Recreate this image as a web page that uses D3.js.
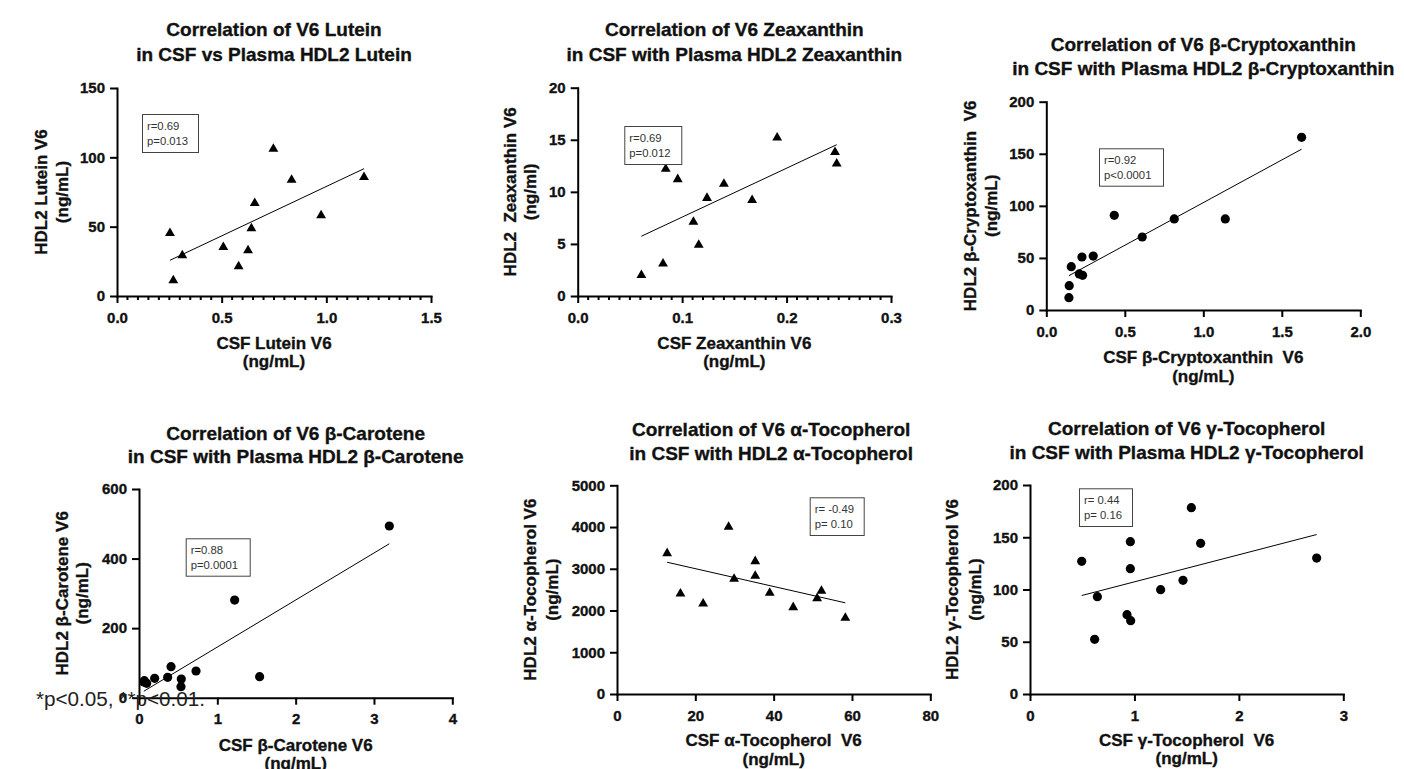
<!DOCTYPE html>
<html>
<head>
<meta charset="utf-8">
<script src="https://cdn.jsdelivr.net/npm/d3@7"></script>
<style>
  html, body { margin: 0; padding: 0; background: #fff; }
  svg { display: block; }
  text { white-space: pre; }
</style>
</head>
<body>
<svg id="chart" width="1404" height="769"></svg>
<script>
// ---- Data: CSF vs plasma HDL2 concentrations at visit 6 ----
const luteinCSF  = [0.253, 0.269, 0.312, 0.508, 0.581, 0.626, 0.642, 0.658, 0.747, 0.834, 0.975, 1.18];
const luteinHDL2 = [46, 12, 30, 36, 22, 33.6, 49.4, 67.7, 106.8, 84.5, 58.8, 86.4];

const zeaCSF  = [0.061, 0.0817, 0.0843, 0.0958, 0.1108, 0.1159, 0.1238, 0.140, 0.167, 0.191, 0.2464, 0.248];
const zeaHDL2 = [2.1, 3.2, 12.3, 11.3, 7.2, 5.0, 9.5, 10.85, 9.3, 15.3, 13.9, 12.8];

const bcxCSF  = [0.144, 0.146, 0.159, 0.210, 0.231, 0.227, 0.299, 0.433, 0.611, 0.815, 1.140, 1.626];
const bcxHDL2 = [11.8, 23.4, 41.6, 34.6, 33.3, 50.9, 51.8, 90.9, 70.1, 87.4, 87.4, 165.8];

const bcarCSF  = [0.062, 0.068, 0.098, 0.200, 0.366, 0.409, 0.540, 0.536, 0.728, 1.221, 1.540, 3.196];
const bcarHDL2 = [45, 48.9, 41.4, 55.8, 58.7, 89.1, 53.8, 31.6, 76.8, 280.8, 60.4, 493.6];

const atocCSF  = [12.8, 16.2, 22.0, 28.5, 29.9, 35.3, 35.3, 39.0, 45.0, 51.1, 52.2, 58.3];
const atocHDL2 = [3395, 2428, 2188, 4026, 2780, 3203, 2851, 2444, 2101, 2316, 2492, 1845];

const gtocCSF  = [0.495, 0.619, 0.645, 0.929, 0.964, 0.961, 0.961, 1.251, 1.465, 1.545, 1.634, 2.745];
const gtocHDL2 = [127.0, 52.3, 93.1, 75.9, 70.2, 119.9, 145.8, 99.8, 108.8, 178.3, 144.2, 130.1];

// ---- Axis ticks ----
const luteinXTicks = [0, 0.5, 1.0, 1.5];
const luteinYTicks = [0, 50, 100, 150];
const zeaXTicks = [0, 0.1, 0.2, 0.3];
const zeaYTicks = [0, 5, 10, 15, 20];
const bcxXTicks = [0, 0.5, 1.0, 1.5, 2.0];
const bcxYTicks = [0, 50, 100, 150, 200];
const bcarXTicks = [0, 1, 2, 3, 4];
const bcarYTicks = [0, 200, 400, 600];
const atocXTicks = [0, 20, 40, 60, 80];
const atocYTicks = [0, 1000, 2000, 3000, 4000, 5000];
const gtocXTicks = [0, 1, 2, 3];
const gtocYTicks = [0, 50, 100, 150, 200];

// ---- Text ----
const titles = [
  ["Correlation of V6 Lutein", "in CSF vs Plasma HDL2 Lutein"],
  ["Correlation of V6 Zeaxanthin", "in CSF with Plasma HDL2 Zeaxanthin"],
  ["Correlation of V6 β-Cryptoxanthin", "in CSF with Plasma HDL2 β-Cryptoxanthin"],
  ["Correlation of V6 β-Carotene", "in CSF with Plasma HDL2 β-Carotene"],
  ["Correlation of V6 α-Tocopherol", "in CSF with HDL2 α-Tocopherol"],
  ["Correlation of V6 γ-Tocopherol", "in CSF with Plasma HDL2 γ-Tocopherol"]
];
const xTitles = [
  ["CSF Lutein V6", "(ng/mL)"],
  ["CSF Zeaxanthin V6", "(ng/mL)"],
  ["CSF β-Cryptoxanthin  V6", "(ng/mL)"],
  ["CSF β-Carotene V6", "(ng/mL)"],
  ["CSF α-Tocopherol  V6", "(ng/mL)"],
  ["CSF γ-Tocopherol  V6", "(ng/mL)"]
];
const yTitles = [
  ["HDL2 Lutein V6", "(ng/mL)"],
  ["HDL2  Zeaxanthin V6", "(ng/ml)"],
  ["HDL2 β-Cryptoxanthin  V6", "(ng/mL)"],
  ["HDL2 β-Carotene V6", "(ng/mL)"],
  ["HDL2 α-Tocopherol V6", "(ng/mL)"],
  ["HDL2 γ-Tocopherol V6", "(ng/mL)"]
];
const statLabels = [
  ["r=0.69", "p=0.013"],
  ["r=0.69", "p=0.012"],
  ["r=0.92", "p<0.0001"],
  ["r=0.88", "p=0.0001"],
  ["r= -0.49", "p= 0.10"],
  ["r= 0.44", "p= 0.16"]
];
const footnote = "*p<0.05, **p<0.01.";

// ---- Panel layout ----
const panels = [
  { xs: luteinCSF, ys: luteinHDL2, xt: luteinXTicks, yt: luteinYTicks, fmt: ".1f", minor: 0.05, sym: "tri",
    left: 117, top: 88, w: 314, h: 208, titleY: [-52, -27], titleDx: 0, xTitleY: [52.5, 71], yTitleX: [-70, -49],
    box: { dx: 25, dy: 26, w: 56, h: 38 } },
  { xs: zeaCSF, ys: zeaHDL2, xt: zeaXTicks, yt: zeaYTicks, fmt: ".1f", minor: 0.01, sym: "tri",
    left: 577.7, top: 87.7, w: 313.3, h: 208.3, titleY: [-51.7, -26.7], titleDx: 0, xTitleY: [53, 71.5], yTitleX: [-61.7, -41.7],
    box: { dx: 46.6, dy: 38.3, w: 57, h: 38 } },
  { xs: bcxCSF, ys: bcxHDL2, xt: bcxXTicks, yt: bcxYTicks, fmt: ".1f", minor: null, sym: "dot",
    left: 1046.3, top: 101.7, w: 314, h: 208.3, titleY: [-51, -26.7], titleDx: 0, xTitleY: [52.7, 72.5], yTitleX: [-70, -49],
    box: { dx: 52.7, dy: 46.6, w: 64, h: 37.4 } },
  { xs: bcarCSF, ys: bcarHDL2, xt: bcarXTicks, yt: bcarYTicks, fmt: "d", minor: null, sym: "dot",
    left: 139, top: 489, w: 313.3, h: 208.7, titleY: [-49, -25.7], titleDx: 0, xTitleY: [53, 71.5], yTitleX: [-71.3, -50.7],
    box: { dx: 46.7, dy: 49.3, w: 64, h: 37.4 } },
  { xs: atocCSF, ys: atocHDL2, xt: atocXTicks, yt: atocYTicks, fmt: "d", minor: null, sym: "tri",
    left: 617, top: 485.3, w: 313.3, h: 208.7, titleY: [-49.3, -25.3], titleDx: -2.5, xTitleY: [51.7, 71], yTitleX: [-81, -58.7],
    box: { dx: 192.7, dy: 12, w: 54, h: 37.7 } },
  { xs: gtocCSF, ys: gtocHDL2, xt: gtocXTicks, yt: gtocYTicks, fmt: "d", minor: null, sym: "dot",
    left: 1030, top: 485, w: 313.3, h: 209, titleY: [-50, -26], titleDx: 0, xTitleY: [51.7, 70], yTitleX: [-71.7, -49.3],
    box: { dx: 49, dy: 3.3, w: 53, h: 37.7 } }
];

const FONT = "'Liberation Sans', Arial, Helvetica, sans-serif";
const INK = "#111";
const svg = d3.select("#chart");

// Bold labels get a hairline outline so they read as heavy as the print
function heavy(sel) {
  return sel.attr("font-family", FONT).attr("font-weight", "bold")
    .attr("fill", INK).attr("stroke", INK).attr("stroke-width", 0.35);
}

// Ordinary least-squares fit
function linearFit(xs, ys) {
  const mx = d3.mean(xs), my = d3.mean(ys);
  let sxy = 0, sxx = 0;
  xs.forEach((x, i) => { sxy += (x - mx) * (ys[i] - my); sxx += (x - mx) * (x - mx); });
  const slope = sxy / sxx;
  return { slope, intercept: my - slope * mx };
}

const triangle = d3.symbol().type(d3.symbolTriangle).size(42);

panels.forEach((p, i) => {
  const g = svg.append("g").attr("transform", `translate(${p.left},${p.top})`);
  const x = d3.scaleLinear().domain([p.xt[0], p.xt[p.xt.length - 1]]).range([0, p.w]);
  const y = d3.scaleLinear().domain([p.yt[0], p.yt[p.yt.length - 1]]).range([p.h, 0]);

  // Titles
  titles[i].forEach((t, k) => {
    heavy(g.append("text")
      .attr("x", p.w / 2 + p.titleDx).attr("y", p.titleY[k])
      .attr("text-anchor", "middle").attr("font-size", 19)).text(t);
  });

  // Minor x ticks
  if (p.minor) {
    const n = Math.round((x.domain()[1] - x.domain()[0]) / p.minor);
    const minors = d3.range(n + 1).map(k => x.domain()[0] + k * p.minor)
      .filter(v => !p.xt.some(t => Math.abs(t - v) < 1e-9));
    g.append("g").selectAll("line").data(minors).join("line")
      .attr("x1", d => x(d)).attr("x2", d => x(d))
      .attr("y1", p.h).attr("y2", p.h + 4)
      .attr("stroke", "#000").attr("stroke-width", 2);
  }

  // Axes
  const xAxis = g.append("g").attr("transform", `translate(0,${p.h})`)
    .call(d3.axisBottom(x).tickValues(p.xt).tickFormat(d3.format(p.fmt))
      .tickSize(7).tickSizeOuter(0).tickPadding(9));
  const yAxis = g.append("g")
    .call(d3.axisLeft(y).tickValues(p.yt).tickFormat(d3.format("d"))
      .tickSize(7).tickSizeOuter(0).tickPadding(5));
  [xAxis, yAxis].forEach(a => {
    a.select(".domain").attr("stroke", "#000").attr("stroke-width", 2).attr("stroke-linecap", "square");
    a.selectAll(".tick line").attr("stroke", "#000").attr("stroke-width", 2);
    heavy(a.selectAll(".tick text")).attr("font-size", 15);
  });

  // Axis titles
  xTitles[i].forEach((t, k) => {
    heavy(g.append("text")
      .attr("x", p.w / 2).attr("y", p.h + p.xTitleY[k])
      .attr("text-anchor", "middle").attr("font-size", 17)).text(t);
  });
  yTitles[i].forEach((t, k) => {
    heavy(g.append("text")
      .attr("transform", `translate(${p.yTitleX[k]},${p.h / 2}) rotate(-90)`)
      .attr("text-anchor", "middle").attr("font-size", 17)).text(t);
  });

  // Regression line over the observed x range
  const fit = linearFit(p.xs, p.ys);
  const [x0, x1] = d3.extent(p.xs);
  g.append("line")
    .attr("x1", x(x0)).attr("y1", y(fit.intercept + fit.slope * x0))
    .attr("x2", x(x1)).attr("y2", y(fit.intercept + fit.slope * x1))
    .attr("stroke", "#000").attr("stroke-width", 1);

  // Points
  const pts = p.xs.map((v, k) => [v, p.ys[k]]);
  if (p.sym === "tri") {
    g.append("g").selectAll("path").data(pts).join("path")
      .attr("d", triangle)
      .attr("transform", d => `translate(${x(d[0])},${y(d[1]) + 1})`)
      .attr("fill", "#000");
  } else {
    g.append("g").selectAll("circle").data(pts).join("circle")
      .attr("cx", d => x(d[0])).attr("cy", d => y(d[1]))
      .attr("r", 4.6).attr("fill", "#000");
  }

  // Statistics box
  const bx = g.append("g").attr("transform", `translate(${p.box.dx},${p.box.dy})`);
  bx.append("rect").attr("x", 0.5).attr("y", 0.5).attr("width", p.box.w).attr("height", p.box.h)
    .attr("fill", "#fff").attr("stroke", "#444").attr("stroke-width", 1);
  statLabels[i].forEach((t, k) => {
    bx.append("text").attr("x", 5).attr("y", 16 + k * 15)
      .attr("font-family", FONT).attr("font-size", 11.3).attr("fill", "#333").text(t);
  });
});

// Significance footnote
svg.append("text")
  .attr("x", 36).attr("y", 705.7)
  .attr("font-family", FONT).attr("font-size", 19.5)
  .attr("textLength", 169).attr("lengthAdjust", "spacingAndGlyphs")
  .attr("fill", "#222").text(footnote);
</script>
</body>
</html>
